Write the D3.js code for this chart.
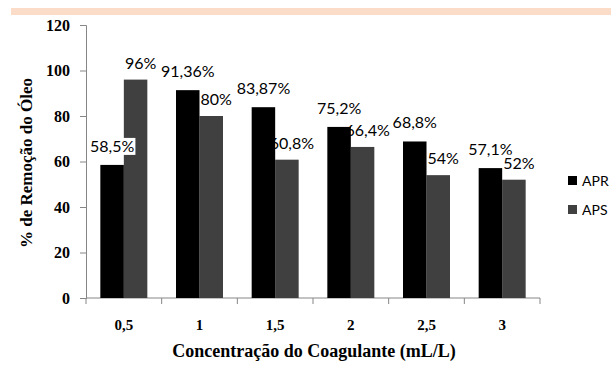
<!DOCTYPE html>
<html>
<head>
<meta charset="utf-8">
<script src="https://cdn.jsdelivr.net/npm/d3@7"></script>
<style>
  html, body { margin: 0; padding: 0; background: #fff; }
  svg { display: block; }
</style>
</head>
<body>
<svg id="chart" width="611" height="365"></svg>
<script>
// Concentração do coagulante (mL/L) e remoção de óleo (%) para cada amostra
const categories = ["0,5", "1", "1,5", "2", "2,5", "3"];
const seriesNames = ["APR", "APS"];
const aprValues = [58.5, 91.36, 83.87, 75.2, 68.8, 57.1];
const apsValues = [96, 80, 60.8, 66.4, 54, 52];
const aprLabels = ["58,5%", "91,36%", "83,87%", "75,2%", "68,8%", "57,1%"];
const apsLabels = ["96%", "80%", "60,8%", "66,4%", "54%", "52%"];
const yTicks = [0, 20, 40, 60, 80, 100, 120];

const colors = { APR: "#000000", APS: "#404040" };
const axisColor = "#868686";
const serif = "'Liberation Serif', 'Times New Roman', serif";
const sans = "Lato, 'Open Sans', sans-serif";

const svg = d3.select("#chart");
const margin = { left: 86, right: 71, top: 25, bottom: 67 };
const W = 611, H = 365;
const plotW = W - margin.left - margin.right;
const plotH = H - margin.top - margin.bottom;

// faixa decorativa no topo
svg.append("rect")
  .attr("x", 11).attr("y", 8).attr("width", W - 11).attr("height", 7)
  .attr("fill", "#fbdcc9");

const g = svg.append("g").attr("transform", `translate(${margin.left},${margin.top})`);

const x0 = d3.scaleBand().domain(categories).range([0, plotW]).paddingInner(0).paddingOuter(0);
const x1 = d3.scaleBand().domain(seriesNames).range([0, x0.bandwidth()]).paddingInner(0).paddingOuter(0.61);
const y = d3.scaleLinear().domain([0, 120]).range([plotH, 0]);

const rows = categories.map((c, i) => ({
  cat: c,
  APR: aprValues[i], APS: apsValues[i],
  aprLabel: aprLabels[i], apsLabel: apsLabels[i]
}));

// eixo Y
const yAxis = g.append("g")
  .call(d3.axisLeft(y).tickValues(yTicks).tickSize(6).tickPadding(10).tickFormat(d3.format("d")));
yAxis.select(".domain").attr("stroke", axisColor);
yAxis.selectAll(".tick line").attr("stroke", axisColor);
yAxis.selectAll(".tick text")
  .attr("fill", "#000")
  .style("font-family", serif).style("font-weight", "bold").style("font-size", "16px");

// eixo X: marcas nas divisões entre as categorias
const xAxis = g.append("g").attr("transform", `translate(0,${plotH})`);
xAxis.append("line")
  .attr("x1", 0).attr("x2", plotW).attr("y1", 0).attr("y2", 0)
  .attr("stroke", axisColor);
xAxis.selectAll("line.tk")
  .data(d3.range(categories.length + 1))
  .join("line").attr("class", "tk")
  .attr("x1", i => i * x0.step()).attr("x2", i => i * x0.step())
  .attr("y1", 0).attr("y2", 6)
  .attr("stroke", axisColor);
xAxis.selectAll("text")
  .data(categories)
  .join("text")
  .attr("x", d => x0(d) + x0.bandwidth() / 2)
  .attr("y", 32)
  .attr("text-anchor", "middle")
  .style("font-family", serif).style("font-weight", "bold").style("font-size", "15px")
  .text(d => d);

const groups = g.selectAll("g.cat")
  .data(rows).join("g").attr("class", "cat")
  .attr("transform", d => `translate(${x0(d.cat)},0)`);

// barras APS
groups.append("rect")
  .attr("x", x1("APS")).attr("width", x1.bandwidth())
  .attr("y", d => y(d.APS)).attr("height", d => plotH - y(d.APS))
  .attr("fill", colors.APS);

// rótulos de dados com fundo branco
function addLabel(sel, key, labelKey, dx, gap) {
  const lab = sel.append("g")
    .attr("transform", d => `translate(${x1(key) + x1.bandwidth() / 2 + dx},${y(d[key]) - gap})`);
  lab.append("text")
    .attr("text-anchor", "middle")
    .style("font-family", sans).style("font-size", "16px")
    .attr("fill", "#000")
    .text(d => d[labelKey]);
  lab.each(function () {
    const node = d3.select(this);
    const bb = node.select("text").node().getBBox();
    node.insert("rect", "text")
      .attr("x", bb.x - 1).attr("y", bb.y + 2)
      .attr("width", bb.width + 2).attr("height", bb.height - 2)
      .attr("fill", "#fff");
  });
}
addLabel(groups, "APR", "aprLabel", 0, 13);
addLabel(groups, "APS", "apsLabel", 5, 11);

// barras APR
groups.append("rect")
  .attr("x", x1("APR")).attr("width", x1.bandwidth())
  .attr("y", d => y(d.APR)).attr("height", d => plotH - y(d.APR))
  .attr("fill", colors.APR);

// títulos dos eixos
svg.append("text")
  .attr("x", 314).attr("y", 357)
  .attr("text-anchor", "middle")
  .style("font-family", serif).style("font-weight", "bold").style("font-size", "18px")
  .text("Concentração do Coagulante (mL/L)");

svg.append("text")
  .attr("transform", "translate(32,163) rotate(-90)")
  .attr("text-anchor", "middle")
  .style("font-family", serif).style("font-weight", "bold").style("font-size", "17px")
  .text("% de Remoção do Óleo");

// legenda
const legend = svg.append("g").attr("transform", "translate(568,176)");
const li = legend.selectAll("g").data(seriesNames).join("g")
  .attr("transform", (d, i) => `translate(0,${i * 29})`);
li.append("rect").attr("width", 9).attr("height", 9).attr("fill", d => colors[d]);
li.append("text").attr("x", 14).attr("y", 9.5)
  .style("font-family", sans).style("font-size", "14px")
  .text(d => d);
</script>
</body>
</html>
